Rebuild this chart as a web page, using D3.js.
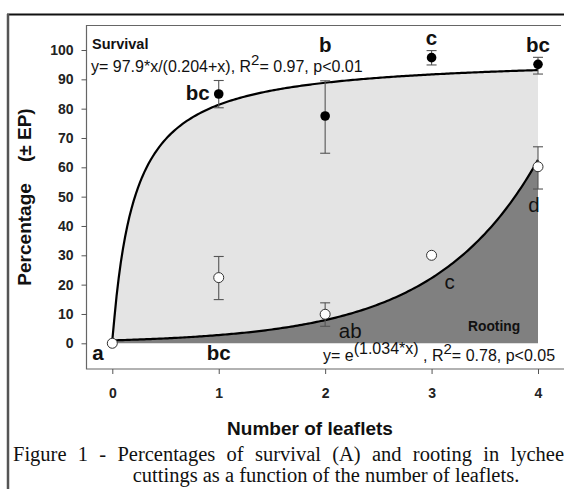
<!DOCTYPE html>
<html><head><meta charset="utf-8">
<script src="https://cdn.jsdelivr.net/npm/d3@7"></script>
<style>body{margin:0;background:#fff}svg{display:block;font-family:Arial,"Liberation Sans",sans-serif}</style>
</head><body>
<svg id="c" width="564" height="489"></svg>
<script>
const leaflets = [0, 1, 2, 3, 4];
const survival = [0, 85, 77.5, 97.4, 95.1];
const survivalLo = [null, 80.3, 64.8, 94.9, 91.8];
const survivalHi = [null, 89.6, 89.5, 99.8, 97.5];
const rooting = [0, 22.4, 9.9, 30, 60.2];
const rootingLo = [null, 14.9, 5.8, null, 52.6];
const rootingHi = [null, 29.6, 13.8, null, 67.0];
const survivalLetters = ["", "bc", "b", "c", "bc"];
const rootingLetters = ["a", "bc", "ab", "c", "d"];
const yTicks = [0, 10, 20, 30, 40, 50, 60, 70, 80, 90, 100];
const survivalFit = [97.9, 0.204];   // y = a*x/(b+x)
const rootingFit = [1.034];          // y = e^(k*x)

const svg = d3.select("#c");
const x = d3.scaleLinear().domain([0, 4]).range([112.3, 538]);
const y = d3.scaleLinear().domain([0, 100]).range([343.3, 50]);

const xs = d3.range(0, 4.0001, 0.02);
const sFit = v => survivalFit[0] * v / (survivalFit[1] + v);
const rFit = v => Math.exp(rootingFit[0] * v);

// outer frame
svg.append("line").attr("x1", 7).attr("x2", 564).attr("y1", 14.5).attr("y2", 14.5).attr("stroke", "#111").attr("stroke-width", 2);
svg.append("line").attr("x1", 8).attr("x2", 8).attr("y1", 14).attr("y2", 489).attr("stroke", "#555").attr("stroke-width", 2.5);

// plot box
svg.append("path").attr("d", "M564,369H86.5V25.5H561").attr("fill", "none").attr("stroke", "#666").attr("stroke-width", 1.2);

// areas
svg.append("path").datum(xs).attr("fill", "#e4e4e4")
  .attr("d", d3.area().x(d => x(d)).y0(d => y(rFit(d))).y1(d => y(Math.max(sFit(d), rFit(d)))));
svg.append("path").datum(xs).attr("fill", "#808080")
  .attr("d", d3.area().x(d => x(d)).y0(y(0)).y1(d => y(rFit(d))));

// fit curves
svg.append("path").datum(xs).attr("fill", "none").attr("stroke", "#000").attr("stroke-width", 2.2)
  .attr("d", d3.line().x(d => x(d)).y(d => y(Math.max(sFit(d), rFit(d)))));
svg.append("path").datum(xs).attr("fill", "none").attr("stroke", "#000").attr("stroke-width", 2.2)
  .attr("d", d3.line().x(d => x(d)).y(d => y(rFit(d))));

// axes
const yAxis = d3.axisLeft(y).tickValues(yTicks).tickSize(5).tickPadding(8);
const gy = svg.append("g").attr("transform", "translate(86.5,0)").call(yAxis);
gy.select(".domain").remove();
gy.selectAll("line").attr("stroke", "#555");
gy.selectAll("text").style("font-size", "14px").style("font-weight", "bold").style("font-family", "Arial").attr("fill", "#222");

const xAxis = d3.axisBottom(x).tickValues(leaflets).tickFormat(d3.format("d")).tickSize(5).tickPadding(14);
const gx = svg.append("g").attr("transform", "translate(0,369)").call(xAxis);
gx.select(".domain").remove();
gx.selectAll("line").attr("stroke", "#555");
gx.selectAll("text").style("font-size", "14px").style("font-weight", "bold").style("font-family", "Arial").attr("fill", "#222");

// error bars
function errbars(lo, hi) {
  leaflets.forEach((v, i) => {
    if (lo[i] == null) return;
    const g = svg.append("g").attr("stroke", "#555").attr("stroke-width", 1.1);
    g.append("line").attr("x1", x(v)).attr("x2", x(v)).attr("y1", y(lo[i])).attr("y2", y(hi[i]));
    g.append("line").attr("x1", x(v) - 5).attr("x2", x(v) + 5).attr("y1", y(lo[i])).attr("y2", y(lo[i]));
    g.append("line").attr("x1", x(v) - 5).attr("x2", x(v) + 5).attr("y1", y(hi[i])).attr("y2", y(hi[i]));
  });
}
errbars(survivalLo, survivalHi);
errbars(rootingLo, rootingHi);

svg.selectAll(".sp").data(leaflets).join("circle").attr("cx", d => x(d)).attr("cy", (d, i) => y(survival[i]))
  .attr("r", 4.8).attr("fill", "#000");
svg.selectAll(".rp").data(leaflets).join("circle").attr("cx", d => x(d)).attr("cy", (d, i) => y(rooting[i]))
  .attr("r", 5).attr("fill", "#fff").attr("stroke", "#333").attr("stroke-width", 1);

// letters
const big = (t, xx, yy, w) => svg.append("text").text(t).attr("x", xx).attr("y", yy).attr("text-anchor", "middle")
  .attr("font-size", 20.5).attr("font-weight", w).attr("fill", "#111");
big(survivalLetters[1], x(1) - 21, 100, "bold");
big(survivalLetters[2], x(2), 52, "bold");
big(survivalLetters[3], x(3), 45, "bold");
big(survivalLetters[4], x(4), 52, "bold");
big(rootingLetters[0], 98, 360, "bold");
big(rootingLetters[1], x(1), 360, "bold");
big(rootingLetters[2], x(2) + 25, 338, "normal");
big(rootingLetters[3], x(3) + 18, 289, "normal");
big(rootingLetters[4], x(4) - 4, 212, "normal");

// annotations
svg.append("text").text("Survival").attr("x", 92).attr("y", 49).attr("font-size", 14.5).attr("font-weight", "bold").attr("fill", "#111");
const eq1 = svg.append("text").attr("x", 91).attr("y", 72).attr("font-size", 16).attr("fill", "#111");
eq1.append("tspan").text("y= 97.9*x/(0.204+x), R");
eq1.append("tspan").text("2").attr("dy", -7).attr("font-size", 15);
eq1.append("tspan").text("= 0.97, p<0.01").attr("dy", 7);

svg.append("text").text("Rooting").attr("x", 468).attr("y", 331).attr("font-size", 13.8).attr("font-weight", "bold").attr("fill", "#111");
const eq2 = svg.append("text").attr("x", 323).attr("y", 361).attr("font-size", 16).attr("fill", "#111");
eq2.append("tspan").text("y= e");
eq2.append("tspan").text("(1.034*x)").attr("dy", -7);
eq2.append("tspan").text(" , R").attr("dy", 7);
eq2.append("tspan").text("2").attr("dy", -7).attr("font-size", 15);
eq2.append("tspan").text("= 0.78, p<0.05").attr("dy", 7);

// axis titles
svg.append("text").text("Number of leaflets").attr("x", 310).attr("y", 435).attr("text-anchor", "middle")
  .attr("font-size", 19).attr("font-weight", "bold").attr("fill", "#111");
svg.append("text").text("Percentage    (± EP)").attr("transform", "translate(31,197) rotate(-90)").attr("text-anchor", "middle")
  .attr("font-size", 19).attr("font-weight", "bold").attr("fill", "#111").style("white-space", "pre");

// caption (line 1 justified through word spacing)
const serif = "'Liberation Serif','Times New Roman',serif";
const cap1 = "Figure 1 - Percentages of survival (A) and rooting in lychee";
const c1 = svg.append("text").text(cap1).attr("x", 13).attr("y", 461)
  .style("font-family", serif).attr("font-size", 20.5).attr("fill", "#111");
const natural = c1.node().getComputedTextLength();
const gaps = cap1.split(" ").length - 1;
c1.style("word-spacing", ((551 - natural) / gaps) + "px");
svg.append("text").text("cuttings as a function of the number of leaflets.").attr("x", 326).attr("y", 482).attr("text-anchor", "middle")
  .style("font-family", serif).attr("font-size", 20.5).attr("fill", "#111");
</script>
</body></html>
